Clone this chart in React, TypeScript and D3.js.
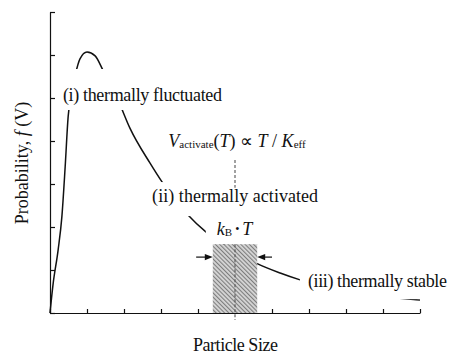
import React, { useEffect, useRef } from "react";
import * as d3 from "d3";

// particle size (arbitrary units) vs probability f(V)
const sizes = [0, 0.08, 0.22, 0.32, 0.41, 0.49, 0.57, 0.68, 0.81, 1.0, 1.22, 1.43, 1.84, 2.16, 2.7, 3.05, 3.73, 4.22, 4.86, 5.57, 6.22, 6.76, 7.57, 8.38, 9.38, 10];
const probs = [0, 0.65, 1.47, 2.23, 3.4, 4.56, 5.07, 5.53, 5.91, 6.07, 5.98, 5.65, 4.95, 4.3, 3.49, 3.02, 2.28, 1.88, 1.51, 1.16, 0.93, 0.77, 0.58, 0.44, 0.35, 0.3];

const xTickValues = [0, 1, 2, 3, 4, 5, 6, 7, 8, 9, 10];
const yTickValues = [0, 1, 2, 3, 4, 5, 6, 7];

// activation size and thermal width (kB T) band
const vActivate = 5.0;
const kTHalfWidth = 0.6;
const bandHeight = 1.6;

const regimeLabels = ["(i) thermally fluctuated", "(ii) thermally activated", "(iii) thermally stable"];
const regimeAnchorX = [0.35, 2.76, 6.97];
const regimeAnchorY = [4.93, 2.58, 0.6];

const xTitle = "Particle Size";

const FONT = '"Liberation Serif"';

const App = () => {
  const svgRef = useRef<SVGSVGElement>(null);

  useEffect(() => {
    const svg = d3.select(svgRef.current);
    svg.selectAll("*").remove();

    const x = d3.scaleLinear().domain([0, 10]).range([50, 420]);
    const y = d3.scaleLinear().domain([0, 7]).range([313, 12]);

    // 15-17px picks a sans face in this browser, so stay at 18px
    const txt = (sel: any) =>
      sel.style("font-family", FONT).style("font-size", "18px").attr("fill", "#111");

    // hatch for the kB T band
    const defs = svg.append("defs");
    const pat = defs
      .append("pattern")
      .attr("id", "hatch")
      .attr("patternUnits", "userSpaceOnUse")
      .attr("width", 3)
      .attr("height", 10)
      .attr("patternTransform", "rotate(-45)");
    pat.append("rect").attr("width", 3).attr("height", 10).attr("fill", "#d6d6d6");
    pat.append("rect").attr("width", 1.1).attr("height", 10).attr("fill", "#7d7d7d");

    // axes
    const xAxis = svg
      .append("g")
      .attr("transform", `translate(0,${y(0)})`)
      .call(d3.axisBottom(x).tickValues(xTickValues).tickSizeInner(-4).tickSizeOuter(0).tickFormat(() => ""));
    const yAxis = svg
      .append("g")
      .attr("transform", `translate(${x(0)},0)`)
      .call(d3.axisLeft(y).tickValues(yTickValues).tickSizeInner(-5).tickSizeOuter(0).tickFormat(() => ""));
    [xAxis, yAxis].forEach(a => {
      a.selectAll("path,line").attr("stroke", "#111").attr("stroke-width", 1.2);
    });

    // distribution curve
    const pts: [number, number][] = sizes.map((s, i) => [s, probs[i]]);
    const line = d3
      .line<[number, number]>()
      .x(d => x(d[0]))
      .y(d => y(d[1]))
      .curve(d3.curveMonotoneX);
    svg
      .append("path")
      .attr("d", line(pts))
      .attr("fill", "none")
      .attr("stroke", "#111")
      .attr("stroke-width", 1.5);

    // regime labels with white boxes that cut the curve
    const widths = [159, 166, 139];
    const pads = [
      { t: 16, b: 4, l: 2, r: 2 },
      { t: 4, b: 9, l: 2, r: 2 },
      { t: 2, b: 7, l: 8, r: 2 },
    ];
    regimeLabels.forEach((lab, i) => {
      const g = svg.append("g");
      const box = g.append("rect").attr("fill", "#fff");
      const t = g
        .append("text")
        .attr("x", x(regimeAnchorX[i]))
        .attr("y", y(regimeAnchorY[i]))
        .attr("textLength", widths[i])
        .attr("lengthAdjust", "spacing")
        .call(txt)
        .text(lab);
      const bb = (t.node() as SVGTextElement).getBBox();
      const p = pads[i];
      box
        .attr("x", bb.x - p.l)
        .attr("y", bb.y - p.t)
        .attr("width", bb.width + p.l + p.r)
        .attr("height", bb.height + p.t + p.b);
    });

    // kB T label box (hides curve above the band)
    const x0 = x(vActivate - kTHalfWidth);
    const x1 = x(vActivate + kTHalfWidth);
    svg
      .append("rect")
      .attr("x", x0 - 7)
      .attr("y", y(bandHeight) - 26)
      .attr("width", x1 - x0 + 7)
      .attr("height", 26)
      .attr("fill", "#fff");

    const kt = svg
      .append("text")
      .attr("x", x0 + 4)
      .attr("y", y(bandHeight) - 9)
      .call(txt);
    kt.append("tspan").attr("font-style", "italic").text("k");
    kt.append("tspan").style("font-size", "11px").attr("dy", 1).text("B");
    kt.append("tspan").style("font-size", "12px").attr("dy", -3).text(" \u2022 ");
    kt.append("tspan").attr("font-style", "italic").attr("dy", 2).text("T");

    // shaded band
    svg
      .append("rect")
      .attr("x", x0)
      .attr("y", y(bandHeight))
      .attr("width", x1 - x0)
      .attr("height", y(0) - y(bandHeight))
      .attr("fill", "url(#hatch)");

    // dashed activation line
    const dash = (ya: number, yb: number) =>
      svg
        .append("line")
        .attr("x1", x(vActivate))
        .attr("x2", x(vActivate))
        .attr("y1", y(ya))
        .attr("y2", y(yb))
        .attr("stroke", "#555")
        .attr("stroke-width", 1.1)
        .attr("stroke-dasharray", "3,2");
    dash(3.56, 2.91);
    dash(bandHeight, -0.16);

    // arrows pointing at the band edges
    const ay = y(1.3);
    const arrow = (from: number, to: number) => {
      const dir = Math.sign(to - from);
      svg
        .append("line")
        .attr("x1", from)
        .attr("x2", to - dir * 6)
        .attr("y1", ay)
        .attr("y2", ay)
        .attr("stroke", "#111")
        .attr("stroke-width", 1.2);
      svg
        .append("path")
        .attr("d", `M${to},${ay} L${to - dir * 8},${ay - 3.2} L${to - dir * 8},${ay + 3.2} Z`)
        .attr("fill", "#111");
    };
    arrow(x(3.95), x0);
    arrow(x(6.0), x1);

    // formula above the dashed line
    const f = svg
      .append("text")
      .attr("x", x(vActivate) + 2)
      .attr("y", 147)
      .attr("text-anchor", "middle")
      .call(txt);
    f.append("tspan").attr("font-style", "italic").text("V");
    f.append("tspan").style("font-size", "11px").attr("dy", 1).text("activate");
    f.append("tspan").attr("dy", -1).text("(");
    f.append("tspan").attr("font-style", "italic").text("T");
    f.append("tspan").text(") \u221D ");
    f.append("tspan").attr("font-style", "italic").text("T");
    f.append("tspan").text(" / ");
    f.append("tspan").attr("font-style", "italic").text("K");
    f.append("tspan").style("font-size", "11px").attr("dy", 1).text("eff");

    // axis titles
    svg
      .append("text")
      .attr("x", 193)
      .attr("y", 351)
      .attr("textLength", 85)
      .attr("lengthAdjust", "spacing")
      .call(txt)
      .text(xTitle);

    const yt = svg
      .append("text")
      .attr("transform", "translate(28,163) rotate(-90)")
      .attr("text-anchor", "middle")
      .call(txt);
    yt.append("tspan").text("Probability, ");
    yt.append("tspan").attr("font-style", "italic").text("f");
    yt.append("tspan").text(" (V)");
  }, []);

  return (
    <svg
      ref={svgRef}
      width={451}
      height={354}
      style={{ position: "absolute", left: 0, top: 0, background: "#fff" }}
    ></svg>
  );
};

export default App;
